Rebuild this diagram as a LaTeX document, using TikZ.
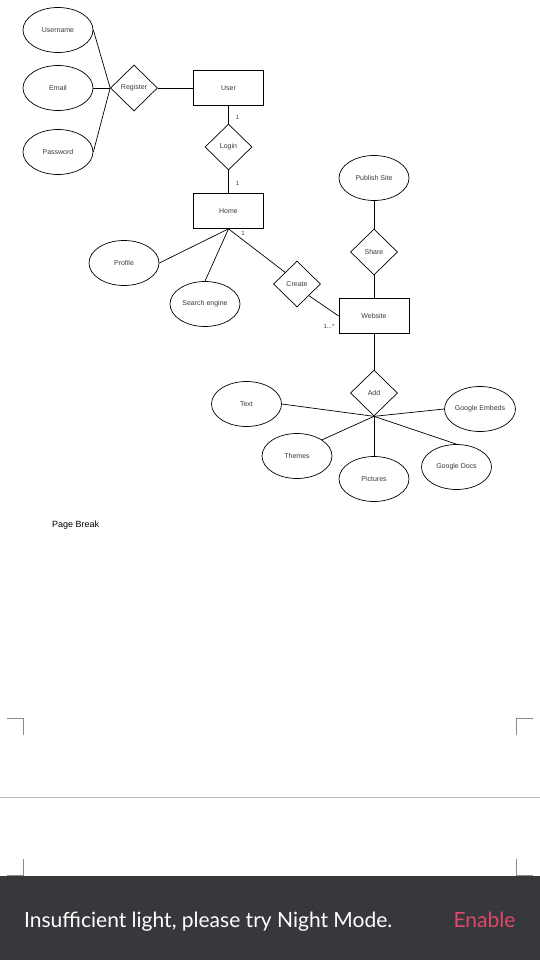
\documentclass[tikz,border=0pt]{standalone}
\usepackage{fontspec}
\setmainfont{Liberation Sans}
\newfontfamily\barfont{Lato}
\usetikzlibrary{shapes.geometric}
\definecolor{txt}{HTML}{3A3A3A}
\definecolor{barbg}{HTML}{37383C}
\definecolor{enablec}{HTML}{E0476A}
\definecolor{markc}{HTML}{8A8A8A}
\tikzset{
  attr/.style={ellipse, draw=black, line width=0.7pt, minimum width=70pt, minimum height=45pt, inner sep=0pt, font=\fontsize{7}{8}\selectfont, text=txt},
  ent/.style={rectangle, draw=black, line width=0.7pt, minimum width=70pt, minimum height=35pt, inner sep=0pt, font=\fontsize{7}{8}\selectfont, text=txt},
  rel/.style={diamond, draw=black, line width=0.7pt, minimum width=47pt, minimum height=46pt, inner sep=0pt, font=\fontsize{7}{8}\selectfont, text=txt},
  lnk/.style={draw=black, line width=0.7pt},
  card/.style={inner sep=0pt, font=\fontsize{6}{7}\selectfont, text=txt},
  cornermark/.style={draw=markc, line width=0.8pt},
}
\begin{document}
\begin{tikzpicture}[x=1pt,y=-1pt]
\useasboundingbox (0,0) rectangle (540,960);
\fill[white] (0,0) rectangle (540,960);
% attributes of register
\node[attr] (username) at (58,30) {Username};
\node[attr] (email) at (58,88) {Email};
\node[attr] (password) at (58,152) {Password};
\node[rel] (register) at (134,88) {Register};
\node[ent] (user) at (228.5,88) {User};
\node[rel] (login) at (228.5,147) {Login};
\node[ent] (home) at (228.5,211) {Home};
\node[attr] (profile) at (124,263) {Profile};
\node[attr] (search) at (205,304) {Search engine};
\node[rel] (create) at (297,284) {Create};
\node[ent] (website) at (374,316) {Website};
\node[rel] (share) at (374,252) {Share};
\node[attr] (publish) at (374,178) {Publish Site};
\node[rel] (add) at (374,393) {Add};
\node[attr] (text) at (246.5,404) {Text};
\node[attr] (embeds) at (480,409) {Google Embeds};
\node[attr] (themes) at (297,456) {Themes};
\node[attr] (pictures) at (374,479) {Pictures};
\node[attr] (docs) at (456.5,467) {Google Docs};
% cardinalities
\node[card] (c1) at (237.5,117) {1};
\node[card] (c2) at (237.5,183) {1};
\node[card] (c3) at (243,233) {1};
\node[card] (c4) at (329,326) {1...*};
% connectors
\draw[lnk] (username.east) -- (register.west);
\draw[lnk] (email.east) -- (register.west);
\draw[lnk] (password.east) -- (register.west);
\draw[lnk] (register.east) -- (user.west);
\draw[lnk] (user.south) -- (login.north);
\draw[lnk] (login.south) -- (home.north);
\draw[lnk] (home.south) -- (profile.east);
\draw[lnk] (home.south) -- (search.north);
\draw[lnk] (home.south) -- (create.north west);
\draw[lnk] (create.south east) -- (website.west);
\draw[lnk] (publish.south) -- (share.north);
\draw[lnk] (share.south) -- (website.north);
\draw[lnk] (website.south) -- (add.north);
\draw[lnk] (add.south) -- (text.east);
\draw[lnk] (add.south) -- (embeds.west);
\draw[lnk] (add.south) -- (themes.north east);
\draw[lnk] (add.south) -- (pictures.north);
\draw[lnk] (add.south) -- (docs.north);
% page break
\node[anchor=west, inner sep=0pt, font=\fontsize{9}{10}\selectfont, text=black] (pb) at (52,525) {Page Break};
% page corner marks
\draw[cornermark] (7,718.5) -- (23,718.5) -- (23,735);
\draw[cornermark] (533,718.5) -- (516,718.5) -- (516,735);
\draw[draw=markc!60, line width=0.8pt] (0,797) -- (540,797);
\draw[cornermark] (23,859) -- (23,875.5) -- (7,875.5);
\draw[cornermark] (516,859) -- (516,875.5) -- (533,875.5);
% bottom bar
\fill[barbg] (0,876) rectangle (540,960);
\node[anchor=base west, inner sep=0pt, font=\barfont\fontsize{21}{24}\selectfont, text=white] (msg) at (24,927) {Insufficient light, please try Night Mode.};
\node[anchor=base east, inner sep=0pt, font=\barfont\fontsize{21}{24}\selectfont, text=enablec] (enable) at (515.5,927) {Enable};
\end{tikzpicture}
\end{document}
